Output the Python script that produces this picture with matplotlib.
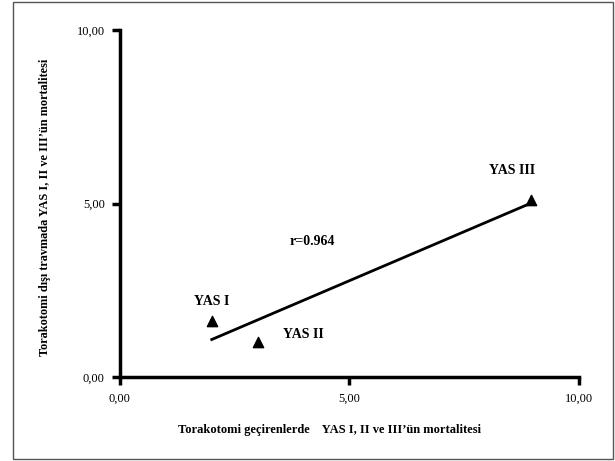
import numpy as np
import matplotlib
matplotlib.use("Agg")
import matplotlib.pyplot as plt
from matplotlib.patches import Rectangle

# mortality data (%)
groups = ["YAS I", "YAS II", "YAS III"]
torakotomi = [2.0, 3.0, 8.95]
travma = [1.62, 1.02, 5.1]
r_text = "r=0.964"
ticks = [0, 5, 10]
tick_labels = ["0,00", "5,00", "10,00"]

plt.rcParams['font.family'] = ['Liberation Serif', 'DejaVu Serif']

fig = plt.figure(figsize=(6.15, 4.61), dpi=100)
ax = fig.add_axes([0.195, 0.182, 0.7465, 0.753])

ax.scatter(torakotomi, travma, marker='^', s=55, color='black', zorder=3)

# regression line
k, b = np.polyfit(torakotomi, travma, 1)
xs = np.array([min(torakotomi), max(torakotomi)])
ax.plot(xs, k * xs + b, color='black', lw=2)

offsets = [(0, 0.55), (1.0, 0.2), (-0.4, 0.85)]
for g, x, y, (dx, dy) in zip(groups, torakotomi, travma, offsets):
    ax.text(x + dx, y + dy, g, ha='center', va='center', fontsize=10, fontweight='bold')
ax.text(4.2, 3.9, r_text, ha='center', va='center', fontsize=10, fontweight='bold')

ax.set_xlim(0, 10)
ax.set_ylim(0, 10)
ax.set_xticks(ticks)
ax.set_xticklabels(tick_labels)
ax.set_yticks(ticks)
ax.set_yticklabels(tick_labels)
ax.tick_params(direction='out', length=6, width=2.5, labelsize=9, pad=5)
for s in ['top', 'right']:
    ax.spines[s].set_visible(False)
for s in ['left', 'bottom']:
    ax.spines[s].set_linewidth(2.5)

fig.text(330 / 615, 1 - 430 / 461, "Torakotomi geçirenlerde    YAS I, II ve III’ün mortalitesi",
         ha='center', va='center', fontsize=9, fontweight='bold')
fig.text(45 / 615, 1 - 207 / 461, "Torakotomi dışı travmada YAS I, II ve III’ün mortalitesi",
         ha='center', va='center', rotation=90, fontsize=8.8, fontweight='bold')

fig.patches.append(Rectangle((0.021, 0.004), 0.976, 0.991, transform=fig.transFigure,
                             fill=False, edgecolor='#555555', lw=1))

fig.savefig("out.png", dpi=100)
